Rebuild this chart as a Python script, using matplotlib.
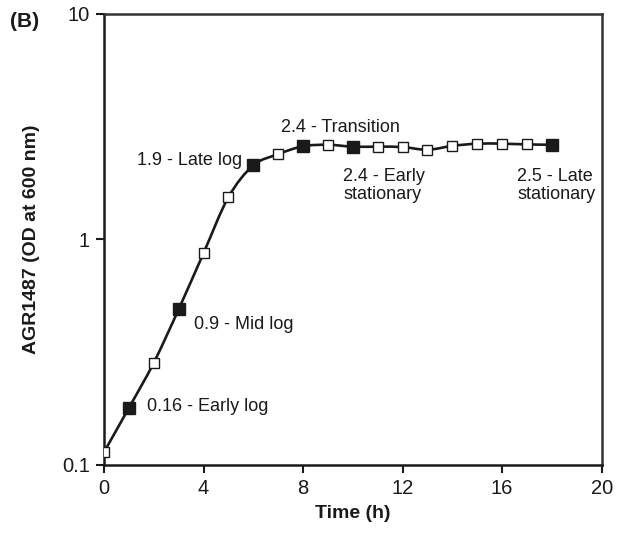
import numpy as np
import matplotlib
matplotlib.use("Agg")
import matplotlib.pyplot as plt
from matplotlib.path import Path
from matplotlib.patches import PathPatch

plt.rcParams['font.family'] = ['Liberation Sans', 'DejaVu Sans']

time_h = [0, 1, 2, 3, 4, 5, 6, 7, 8, 9, 10, 11, 12, 13, 14, 15, 16, 17, 18]
od600 = [0.114, 0.179, 0.284, 0.49, 0.87, 1.54, 2.13, 2.39, 2.59, 2.63, 2.58,
         2.58, 2.57, 2.50, 2.60, 2.66, 2.66, 2.64, 2.63]
sampled = [1, 3, 6, 8, 10, 18]
labels = ["0.16 - Early log", "0.9 - Mid log", "1.9 - Late log",
          "2.4 - Transition", "2.4 - Early\nstationary", "2.5 - Late\nstationary"]

ink = '#1a1a1a'
fig = plt.figure(figsize=(6.26, 5.36), dpi=100)
ax = fig.add_axes([0.1661, 0.1325, 0.795, 0.8414])
ax.set_yscale('log')
ax.set_xlim(0, 20)
ax.set_ylim(0.1, 10)

# smooth line (Catmull-Rom -> Bezier in x / log10(y) space)
x = np.array(time_h, float)
ly = np.log10(np.array(od600))
verts = [(x[0], od600[0])]
codes = [Path.MOVETO]
n = len(x)
for i in range(n - 1):
    p0 = np.array([x[max(i - 1, 0)], ly[max(i - 1, 0)]])
    p1 = np.array([x[i], ly[i]])
    p2 = np.array([x[i + 1], ly[i + 1]])
    p3 = np.array([x[min(i + 2, n - 1)], ly[min(i + 2, n - 1)]])
    c1 = p1 + (p2 - p0) / 6.0
    c2 = p2 - (p3 - p1) / 6.0
    for c in (c1, c2, p2):
        verts.append((c[0], 10 ** c[1]))
        codes.append(Path.CURVE4)
ax.add_patch(PathPatch(Path(verts, codes), fill=False, lw=1.9, color=ink, zorder=2))

open_x = [t for t in time_h if t not in sampled]
open_y = [v for t, v in zip(time_h, od600) if t not in sampled]
fill_x = [t for t in time_h if t in sampled]
fill_y = [v for t, v in zip(time_h, od600) if t in sampled]
ax.plot(open_x, open_y, ls='none', marker='s', ms=6.5, mfc='white', mec=ink, mew=1.0, zorder=3)
ax.plot(fill_x, fill_y, ls='none', marker='s', ms=9, mfc=ink, mec=ink, zorder=4)

label_pos = [(1.72, 0.181), (3.63, 0.418), (1.32, 2.25), (7.1, 3.15), (9.62, 1.73), (16.6, 1.73)]
for (lx, lyy), t in zip(label_pos, labels):
    ax.text(lx, lyy, t, fontsize=13, ha='left', va='center', color=ink, linespacing=1.05)

ax.set_xticks([0, 4, 8, 12, 16, 20])
ax.set_yticks([0.1, 1, 10])
ax.set_yticklabels(['0.1', '1', '10'])
ax.yaxis.set_minor_locator(matplotlib.ticker.NullLocator())
ax.tick_params(axis='both', labelsize=14.5, width=1.5, length=6, color=ink, labelcolor=ink, pad=4)
for s in ax.spines.values():
    s.set_linewidth(1.8)
    s.set_color('#333333')
for s in ['left', 'bottom']:
    ax.spines[s].set_color(ink)

ax.set_xlabel('Time (h)', fontsize=14, fontweight='bold', labelpad=5, color=ink)
ax.set_ylabel('AGR1487 (OD at 600 nm)', fontsize=14, fontweight='bold', labelpad=16, color=ink)
fig.text(0.016, 0.96, '(B)', fontsize=15, fontweight='bold', ha='left', va='center', color=ink)

fig.savefig('out.png', dpi=100)
